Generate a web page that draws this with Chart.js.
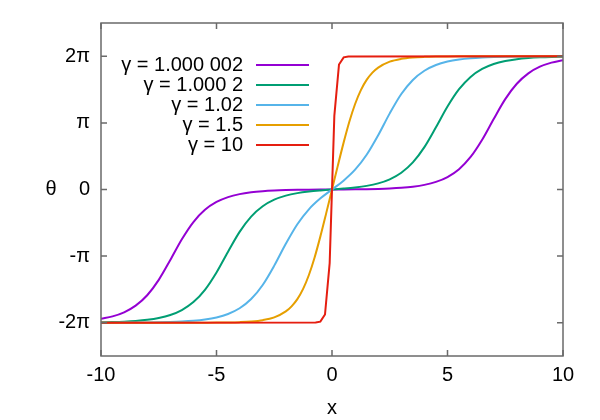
<!DOCTYPE html>
<html lang="en">
<head>
  <meta charset="UTF-8">
  <title>Sine-Gordon kink pair</title>
  <!-- Chart.js -->
  <script src="https://cdn.jsdelivr.net/npm/chart.js"></script>
  <style>
    body { margin: 0; background: #fff; }
    #wrap { width: 600px; height: 420px; }
  </style>
</head>
<body>
  <div id="wrap"><canvas id="thetaChart" width="600" height="420"></canvas></div>

  <script>
    // theta values are in units of pi
    const labels = ['γ = 1.000 002', 'γ = 1.000 2', 'γ = 1.02', 'γ = 1.5', 'γ = 10'];
    const colors = ['#9400D3', '#009E73', '#56B4E9', '#E69F00', '#E51E10'];

    // shared grid for the three slow curves
    const xs = [-10, -9.5, -9, -8.5, -8, -7.5, -7, -6.5, -6, -5.5, -5, -4.5, -4, -3.5, -3, -2.5, -2, -1.5, -1, -0.5,
      0, 0.5, 1, 1.5, 2, 2.5, 3, 3.5, 4, 4.5, 5, 5.5, 6, 6.5, 7, 7.5, 8, 8.5, 9, 9.5, 10];

    const theta1 = [-1.9422, -1.9049, -1.8436, -1.7443, -1.5877, -1.3568, -1.0588, -0.7471, -0.4881, -0.3056,
      -0.1876, -0.1143, -0.0694, -0.0421, -0.0255, -0.0154, -0.0092, -0.0054, -0.0030, -0.0013,
      0, 0.0013, 0.0030, 0.0054, 0.0092, 0.0154, 0.0255, 0.0421, 0.0694, 0.1143,
      0.1876, 0.3056, 0.4881, 0.7471, 1.0588, 1.3568, 1.5877, 1.7443, 1.8436, 1.9049, 1.9422];

    const theta2 = [-1.9942, -1.9905, -1.9843, -1.9741, -1.9573, -1.9296, -1.8843, -1.8100, -1.6906, -1.5060,
      -1.2452, -0.9332, -0.6361, -0.4068, -0.2518, -0.1533, -0.0922, -0.0542, -0.0299, -0.0133,
      0, 0.0133, 0.0299, 0.0542, 0.0922, 0.1533, 0.2518, 0.4068, 0.6361, 0.9332,
      1.2452, 1.5060, 1.6906, 1.8100, 1.8843, 1.9296, 1.9573, 1.9741, 1.9843, 1.9905, 1.9942];

    const theta3 = [-1.9995, -1.9992, -1.9987, -1.9978, -1.9963, -1.9939, -1.9898, -1.9829, -1.9716, -1.9527,
      -1.9213, -1.8692, -1.7835, -1.6453, -1.4334, -1.1431, -0.8152, -0.5210, -0.2972, -0.1331,
      0, 0.1331, 0.2972, 0.5210, 0.8152, 1.1431, 1.4334, 1.6453, 1.7835, 1.8692,
      1.9213, 1.9527, 1.9716, 1.9829, 1.9898, 1.9939, 1.9963, 1.9978, 1.9987, 1.9992, 1.9995];

    // gamma = 1.5 is steeper, so it gets a finer grid near the origin
    const xs4 = [-10, -8, -6, -5.5, -5, -4.5, -4, -3.5, -3, -2.5, -2, -1.75, -1.5, -1.25, -1, -0.75, -0.5, -0.25,
      0, 0.25, 0.5, 0.75, 1, 1.25, 1.5, 1.75, 2, 2.5, 3, 3.5, 4, 4.5, 5, 5.5, 6, 8, 10];
    const theta4 = [-2, -2, -1.9996, -1.9991, -1.9981, -1.9960, -1.9915, -1.9821, -1.9620, -1.9197, -1.8305, -1.7543,
      -1.6453, -1.4922, -1.2841, -1.0169, -0.7001, -0.3548,
      0, 0.3548, 0.7001, 1.0169, 1.2841, 1.4922, 1.6453, 1.7543, 1.8305, 1.9197, 1.9620, 1.9821, 1.9915,
      1.9960, 1.9981, 1.9991, 1.9996, 2, 2];

    // gamma = 10 only has a few samples across the jump
    const xs5 = [-10, -0.707, -0.505, -0.303, -0.101, 0.101, 0.303, 0.505, 0.707, 10];
    const theta5 = [-2, -1.998, -1.984, -1.877, -1.105, 1.105, 1.877, 1.984, 1.998, 2];

    const xTicks = [-10, -5, 0, 5, 10];
    const yTicks = [-2, -1, 0, 1, 2];
    const yTickLabels = ['-2π', '-π', '0', 'π', '2π'];

    const toPoints = (x, y) => x.map((v, i) => ({ x: v, y: y[i] }));
    const series = [
      toPoints(xs, theta1),
      toPoints(xs, theta2),
      toPoints(xs, theta3),
      toPoints(xs4, theta4),
      toPoints(xs5, theta5)
    ];

    // frame, inward ticks, axis names and the gnuplot style key
    const decor = {
      id: 'decor',
      afterDraw(chart) {
        const { ctx, chartArea: a, scales } = chart;
        ctx.save();
        ctx.strokeStyle = '#6a6a6a';
        ctx.lineWidth = 1.5;
        ctx.strokeRect(a.left, a.top, a.right - a.left, a.bottom - a.top);
        ctx.beginPath();
        xTicks.forEach(v => {
          const px = scales.x.getPixelForValue(v);
          ctx.moveTo(px, a.bottom); ctx.lineTo(px, a.bottom - 6);
          ctx.moveTo(px, a.top); ctx.lineTo(px, a.top + 6);
        });
        yTicks.forEach(v => {
          const py = scales.y.getPixelForValue(v);
          ctx.moveTo(a.left, py); ctx.lineTo(a.left + 6, py);
          ctx.moveTo(a.right, py); ctx.lineTo(a.right - 6, py);
        });
        ctx.stroke();

        ctx.fillStyle = '#000';
        ctx.font = '20px "Liberation Sans", Arial, sans-serif';
        ctx.textAlign = 'center';
        ctx.textBaseline = 'middle';
        ctx.fillText('θ', 51, scales.y.getPixelForValue(0));
        ctx.fillText('x', scales.x.getPixelForValue(0), 408);

        ctx.textAlign = 'right';
        chart.data.datasets.forEach((ds, i) => {
          const y = 65 + 20 * i;
          ctx.fillStyle = '#000';
          ctx.fillText(ds.label, 243, y);
          ctx.strokeStyle = ds.borderColor;
          ctx.lineWidth = 2;
          ctx.beginPath();
          ctx.moveTo(256, y); ctx.lineTo(309, y);
          ctx.stroke();
        });
        ctx.restore();
      }
    };

    Chart.defaults.font.family = '"Liberation Sans", Arial, sans-serif';
    Chart.defaults.font.size = 20;
    Chart.defaults.color = '#000';

    new Chart(document.getElementById('thetaChart'), {
      type: 'line',
      data: {
        datasets: labels.map((label, i) => ({
          label: label,
          data: series[i],
          borderColor: colors[i],
          borderWidth: 2,
          pointRadius: 0,
          fill: false,
          order: labels.length - i,
          tension: 0,
          cubicInterpolationMode: i < 4 ? 'monotone' : 'default'
        }))
      },
      options: {
        responsive: false,
        animation: false,
        events: [],
        layout: { padding: { left: 0, right: 37, top: 20, bottom: 0 } },
        plugins: {
          legend: { display: false },
          tooltip: { enabled: false }
        },
        scales: {
          x: {
            type: 'linear',
            min: -10,
            max: 10,
            grid: { display: false, drawTicks: false },
            border: { display: false },
            afterBuildTicks: s => { s.ticks = xTicks.map(v => ({ value: v })); },
            afterFit: s => { s.height = 64; },
            ticks: { padding: 7, maxRotation: 0, callback: v => String(v) }
          },
          y: {
            type: 'linear',
            min: -2.5,
            max: 2.5,
            grid: { display: false, drawTicks: false },
            border: { display: false },
            afterBuildTicks: s => { s.ticks = yTicks.map(v => ({ value: v })); },
            afterFit: s => { s.width = 101; },
            ticks: { padding: 11, callback: v => yTickLabels[yTicks.indexOf(v)] }
          }
        }
      },
      plugins: [decor]
    });
  </script>
</body>
</html>
